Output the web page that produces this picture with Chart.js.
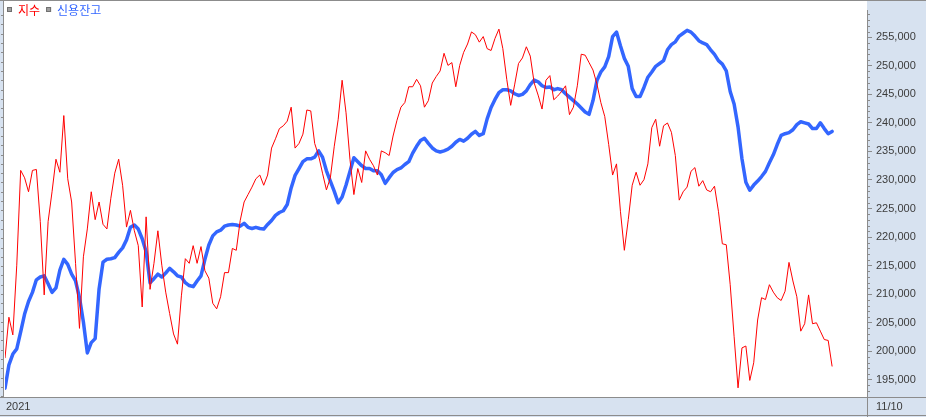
<!DOCTYPE html>
<html>
<head>
<meta charset="utf-8">
<script src="https://cdn.jsdelivr.net/npm/chart.js@4.4.0/dist/chart.umd.min.js"></script>
<style>
  html, body { margin: 0; padding: 0; background: #fff; }
  #wrap { width: 926px; height: 417px; }
</style>
</head>
<body>
<div id="wrap"><canvas id="credit-chart" width="926" height="417"></canvas></div>
<script>
(function() {
    "use strict";

    // series names and the two labels under the chart
    const seriesNames = ['지수', '신용잔고'];
    const dateLabels = ['2021', '11/10'];
    const creditTicks = [195000, 200000, 205000, 210000, 215000, 220000, 225000,
        230000, 235000, 240000, 245000, 250000, 255000];

    // 지수 (index, hidden left scale), one value per trading day
    const indexValues = [
        2941, 2985, 2966, 3041, 3143, 3135, 3120, 3143, 3144, 3088,
        3009, 3088, 3120, 3155, 3141, 3202, 3134, 3109, 3043, 2973,
        3050, 3080, 3120, 3090, 3109, 3085, 3080, 3113, 3140, 3155,
        3127, 3082, 3100, 3078, 3062, 2996, 3093, 3015, 3043, 3078,
        3041, 3012, 2989, 2967, 2956, 3008, 3048, 3043, 3062, 3043,
        3061, 3035, 3027, 3000, 2994, 3007, 3033, 3033, 3059, 3057,
        3089, 3109, 3117, 3125, 3134, 3138, 3127, 3138, 3167, 3177,
        3188, 3191, 3196, 3211, 3167, 3172, 3182, 3208, 3207, 3172,
        3159, 3140, 3122, 3135, 3169, 3198, 3240, 3205, 3155, 3117,
        3145, 3130, 3164, 3155, 3148, 3138, 3164, 3162, 3159, 3180,
        3197, 3211, 3216, 3233, 3233, 3241, 3234, 3211, 3218, 3237,
        3244, 3250, 3269, 3256, 3259, 3233, 3256, 3270, 3279, 3292,
        3289, 3281, 3287, 3274, 3272, 3285, 3295, 3274, 3241, 3213,
        3235, 3258, 3264, 3276, 3266, 3237, 3224, 3209, 3240, 3245,
        3219, 3223, 3228, 3234, 3203, 3211, 3234, 3268, 3267, 3259,
        3251, 3236, 3216, 3201, 3171, 3138, 3150, 3099, 3057, 3090,
        3127, 3141, 3127, 3133, 3150, 3189, 3198, 3169, 3191, 3194,
        3184, 3159, 3111, 3120, 3125, 3142, 3146, 3126, 3132, 3122,
        3120, 3126, 3099, 3064, 3063, 3020, 2964, 2909, 2952, 2954,
        2917, 2936, 2982, 3006, 3004, 3020, 3012, 3006, 3003, 3013,
        3044, 3024, 3007, 2970, 2978, 3009, 2978, 2979, 2970, 2961,
        2960, 2932
    ];

    // 신용잔고 (credit balance, right scale)
    const creditValues = [
        193500, 197600, 199500, 200400, 203400, 206500, 208700, 210300, 212500, 213000,
        213200, 211800, 210300, 211100, 214200, 216100, 215200, 213500, 212300, 209400,
        205100, 199700, 201500, 202200, 210900, 215600, 216100, 216200, 216400, 217300,
        218100, 219500, 221700, 222100, 221400, 219700, 217400, 212000, 212700, 213500,
        213000, 213700, 214500, 213900, 213200, 213000, 212000, 211500, 211300, 212300,
        213200, 216100, 218600, 220200, 220900, 221200, 221900, 222100, 222200, 222100,
        221900, 222400, 221700, 221500, 221700, 221500, 221400, 222200, 222900, 223800,
        224300, 224600, 225700, 228600, 230800, 232000, 233200, 233700, 233700, 234000,
        235100, 234000, 231600, 229800, 228000, 226000, 227000, 229100, 231500, 233900,
        233200, 232500, 232000, 232000, 231600, 231600, 230900, 229400, 230400, 231300,
        231800, 232100, 232700, 233200, 234700, 235900, 236900, 237300, 236400, 235600,
        235100, 234900, 235100, 235400, 235900, 236600, 237100, 236800, 237300, 238000,
        238500, 237800, 238100, 240700, 242700, 244100, 245300, 245800, 245800, 245600,
        245100, 244800, 245000, 245600, 246700, 247500, 247200, 246500, 246200, 246300,
        245800, 246000, 245800, 245100, 244500, 243900, 243300, 242600, 241900, 241500,
        243900, 247400, 248900, 249800, 251600, 255100, 255900, 253500, 251300, 249900,
        246000, 244600, 244600, 246200, 248000, 248900, 249900, 250400, 250900, 252800,
        253700, 254200, 255200, 255700, 256200, 255900, 255200, 254400, 254000, 253700,
        252800, 252000, 250900, 250300, 249100, 245500, 243300, 239300, 233700, 229600,
        228200, 229100, 229800, 230600, 231500, 233000, 234400, 236200, 237800, 238100,
        238300, 238800, 239700, 240200, 240000, 239800, 239000, 239000, 240000, 239000,
        238100, 238500
    ];

    const colors = {
        index: '#ff0000',
        credit: '#3366ff',
        panel: '#d7e2f0',
        frame: '#8c8c8c',
        text: '#3c3c3c'
    };

    const tickFont = { family: '"Liberation Sans", Arial, sans-serif', size: 11 };

    // panels, frame, minor ticks, legend and date labels
    const framePlugin = {
        id: 'frame',
        beforeDraw(chart) {
            const { ctx, chartArea: a, width, height } = chart;
            ctx.save();
            ctx.fillStyle = '#fff';
            ctx.fillRect(0, 0, width, height);
            ctx.fillStyle = colors.panel;
            ctx.fillRect(a.right, 0, width - a.right, height);
            ctx.fillRect(0, a.bottom, width, height - a.bottom);
            ctx.fillRect(0, 0, a.left - 1, a.bottom);
            ctx.strokeStyle = colors.frame;
            ctx.lineWidth = 1;
            ctx.beginPath();
            ctx.moveTo(0, 0.5); ctx.lineTo(width, 0.5);
            ctx.moveTo(0, a.bottom + 0.5); ctx.lineTo(width, a.bottom + 0.5);
            ctx.moveTo(0, height - 1.5); ctx.lineTo(width, height - 1.5);
            ctx.moveTo(a.left - 1.5, 0); ctx.lineTo(a.left - 1.5, a.bottom);
            ctx.moveTo(a.right + 0.5, a.bottom); ctx.lineTo(a.right + 0.5, height);
            ctx.stroke();
            ctx.restore();
        },
        afterDraw(chart) {
            const { ctx, chartArea: a } = chart;
            const yCredit = chart.scales.y;
            const yIndex = chart.scales.yIdx;
            ctx.save();
            ctx.strokeStyle = colors.frame;
            ctx.lineWidth = 1;
            ctx.beginPath();
            for (let v = Math.ceil(yCredit.min / 1000) * 1000; v <= yCredit.max; v += 1000) {
                if (v % 5000 === 0) continue;
                const y = Math.round(yCredit.getPixelForValue(v)) + 0.5;
                ctx.moveTo(a.right, y); ctx.lineTo(a.right + 3, y);
            }
            for (let v = Math.ceil(yIndex.min / 10) * 10; v <= yIndex.max; v += 10) {
                const y = Math.round(yIndex.getPixelForValue(v)) + 0.5;
                ctx.moveTo(a.left - 2, y); ctx.lineTo(a.left - 4, y);
            }
            ctx.stroke();

            // legend
            ctx.font = '12px "Noto Sans CJK KR", sans-serif';
            ctx.textBaseline = 'middle';
            let x = 7;
            seriesNames.forEach((name, i) => {
                ctx.fillStyle = '#a0a0a0';
                ctx.fillRect(x, 7, 5, 5);
                ctx.strokeStyle = '#707070';
                ctx.strokeRect(x + 0.5, 7.5, 4, 4);
                ctx.fillStyle = i === 0 ? colors.index : colors.credit;
                ctx.fillText(name, x + 11, 10);
                x += 11 + ctx.measureText(name).width + 6;
            });

            // date labels
            ctx.font = '11px "Liberation Sans", Arial, sans-serif';
            ctx.fillStyle = colors.text;
            ctx.fillText(dateLabels[0], 6, 407);
            ctx.fillText(dateLabels[1], a.right + 9, 407);
            ctx.restore();
        }
    };

    const creditChart = document.getElementById('credit-chart');
    if (creditChart) {
        window.Chart && new Chart(creditChart, {
            type: 'line',
            data: {
                datasets: [{
                    label: seriesNames[0],
                    data: indexValues.map((v, i) => ({ x: i, y: v })),
                    yAxisID: 'yIdx',
                    borderColor: colors.index,
                    borderWidth: 1,
                    pointRadius: 0,
                    fill: false,
                    lineTension: 0
                }, {
                    label: seriesNames[1],
                    data: creditValues.map((v, i) => ({ x: i, y: v })),
                    yAxisID: 'y',
                    borderColor: colors.credit,
                    borderWidth: 3.5,
                    borderJoinStyle: 'round',
                    borderCapStyle: 'round',
                    pointRadius: 0,
                    fill: false,
                    lineTension: 0
                }]
            },
            options: {
                responsive: false,
                animation: false,
                layout: {
                    padding: { left: 5, top: 1, bottom: 20, right: 0 }
                },
                plugins: {
                    legend: { display: false },
                    tooltip: { enabled: false }
                },
                scales: {
                    x: {
                        type: 'linear',
                        display: false,
                        min: 0,
                        max: 219.9
                    },
                    y: {
                        position: 'right',
                        min: 191974,
                        max: 259667,
                        afterFit(scale) { scale.width = 59; },
                        afterBuildTicks(scale) {
                            scale.ticks = creditTicks.map(v => ({ value: v }));
                        },
                        border: { display: true, color: colors.frame },
                        grid: {
                            display: true,
                            drawOnChartArea: false,
                            drawTicks: true,
                            tickLength: 5,
                            color: colors.frame
                        },
                        ticks: {
                            padding: 4,
                            color: colors.text,
                            font: tickFont,
                            callback: (v) => v.toLocaleString('en-US')
                        }
                    },
                    yIdx: {
                        position: 'left',
                        display: false,
                        min: 2899.15,
                        max: 3314.95
                    }
                }
            },
            plugins: [framePlugin]
        });
    }
})();
</script>
</body>
</html>
